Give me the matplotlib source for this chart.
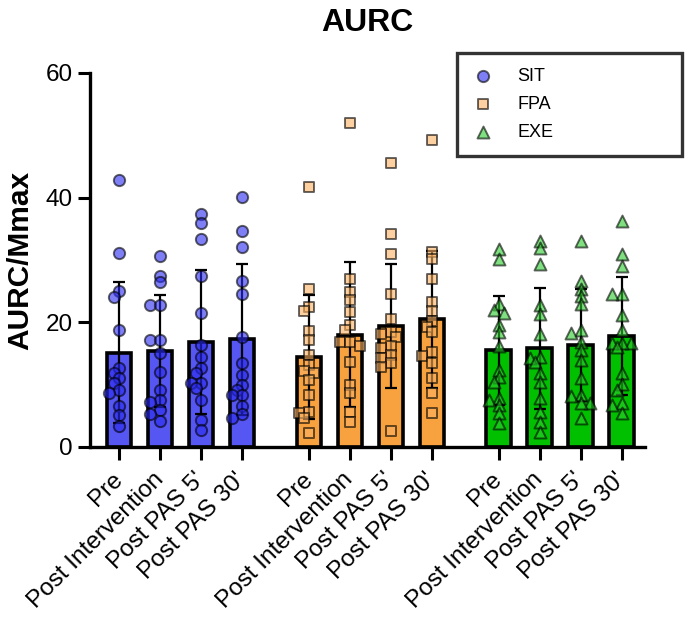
import numpy as np
import matplotlib
matplotlib.use("Agg")
import matplotlib.pyplot as plt

plt.rcParams['font.family'] = ['Liberation Sans', 'DejaVu Sans']

groups = ['SIT', 'FPA', 'EXE']
conditions = ['Pre', 'Post Intervention', "Post PAS 5'", "Post PAS 30'"]

# bar heights (mean) and SD per condition
sit_mean = [15.1, 15.35, 16.85, 17.3]
sit_sd = [11.3, 9.0, 11.6, 12.1]
fpa_mean = [14.4, 18.0, 19.4, 20.5]
fpa_sd = [9.9, 11.6, 9.9, 11.0]
exe_mean = [15.5, 15.8, 16.4, 17.8]
exe_sd = [8.7, 9.7, 9.0, 9.5]

# individual subjects
sit_points = [
    [42.9, 31.1, 25.1, 24.1, 18.8, 12.7, 11.9, 11.0, 10.3, 9.1, 8.6, 6.6, 5.2, 3.4],
    [30.6, 27.5, 26.4, 22.8, 22.8, 17.1, 17.1, 15.1, 12.0, 9.1, 7.6, 7.2, 5.9, 5.3, 4.1],
    [37.3, 36.0, 33.3, 27.5, 21.5, 16.3, 14.4, 12.6, 11.8, 10.3, 10.3, 9.4, 7.5, 4.3, 2.8],
    [40.1, 34.7, 32.1, 26.7, 24.6, 17.6, 13.4, 11.5, 9.9, 9.2, 8.3, 8.3, 6.5, 5.3, 4.7],
]
fpa_points = [
    [41.7, 25.4, 22.5, 21.8, 18.6, 17.1, 14.7, 13.1, 12.2, 11.9, 10.8, 8.3, 5.6, 5.4, 4.7, 2.3],
    [52.0, 27.0, 24.8, 23.5, 21.7, 19.5, 18.7, 16.8, 16.8, 16.2, 13.6, 9.9, 8.7, 5.6, 4.0],
    [45.6, 34.2, 31.0, 24.6, 20.5, 18.5, 18.2, 17.6, 16.2, 15.9, 14.7, 14.2, 13.4, 12.8, 2.5],
    [49.3, 31.3, 30.2, 27.0, 23.3, 21.8, 20.2, 19.3, 18.5, 15.2, 14.6, 13.4, 11.0, 8.6, 5.4],
]
exe_points = [
    [31.8, 30.2, 22.9, 21.9, 21.5, 19.6, 18.4, 16.2, 12.3, 11.2, 10.4, 7.8, 7.6, 6.7, 5.5, 3.9],
    [33.0, 31.9, 29.4, 22.8, 21.4, 18.1, 14.4, 14.3, 13.6, 11.8, 10.5, 7.9, 5.6, 4.0, 2.4],
    [33.0, 26.6, 25.3, 24.2, 23.0, 18.7, 18.3, 16.8, 15.5, 13.9, 11.0, 8.3, 8.1, 7.1, 7.1, 4.7],
    [36.3, 30.9, 29.0, 24.6, 24.6, 21.1, 18.7, 16.7, 16.7, 16.7, 16.0, 11.9, 10.1, 9.1, 7.0, 6.8, 5.5],
]

bar_colors = ['#5656F3', '#F8A23F', '#00C000']
point_colors = ['#2A2AEF', '#FAB161', '#2BCB2B']
markers = ['o', 's', '^']
marker_sizes = [66, 56, 74]

means = [sit_mean, fpa_mean, exe_mean]
sds = [sit_sd, fpa_sd, exe_sd]
points = [sit_points, fpa_points, exe_points]

fig = plt.figure(figsize=(6.85, 6.22), dpi=100)
ax = fig.add_axes([0.1314, 0.2814, 0.8102, 0.6013])
ax.set_xlim(-0.71, 12.83)
ax.set_ylim(0, 60)

gap = 0.63
xpx = 41.0      # pixels per x unit
ypx = 6.233     # pixels per y unit


def swarm(vals, d=6.5):
    cands = [0, -0.12, 0.12, -0.24, 0.24]
    placed = []
    offs = [0.0] * len(vals)
    for i in np.argsort(vals)[::-1]:
        best, bestd = 0, -1
        for c in cands:
            dmin = min([np.hypot((c - px) * xpx, (vals[i] - py) * ypx)
                        for px, py in placed] or [99])
            if dmin >= d:
                best = c
                break
            if dmin > bestd:
                best, bestd = c, dmin
        placed.append((best, vals[i]))
        offs[i] = best
    return offs


xticks = []
for g in range(3):
    xs = np.arange(4) + g * (4 + gap)
    xticks.extend(xs)
    ax.bar(xs, means[g], width=0.6, color=bar_colors[g], edgecolor='black',
           linewidth=2.6, zorder=2)
    ax.errorbar(xs, means[g], yerr=sds[g], fmt='none', ecolor='black',
                elinewidth=1.6, capsize=4, capthick=1.6, zorder=3)
    for i in range(4):
        vals = points[g][i]
        offs = swarm(vals)
        ax.scatter(xs[i] + np.array(offs), vals, s=marker_sizes[g],
                   marker=markers[g], facecolor=point_colors[g],
                   edgecolor='black', linewidth=1.4, alpha=0.6, zorder=4,
                   label=groups[g] if i == 0 else None)

ax.set_xticks(xticks)
ax.set_xticklabels(conditions * 3, rotation=45, ha='right', va='center',
                   rotation_mode='anchor', fontsize=17.5)
ax.set_yticks([0, 20, 40, 60])
ax.tick_params(axis='y', labelsize=17.5, length=9, width=2.2)
ax.tick_params(axis='x', length=9, width=2.2, pad=12)
for side in ['top', 'right']:
    ax.spines[side].set_visible(False)
for side in ['left', 'bottom']:
    ax.spines[side].set_linewidth(2.4)

ax.set_ylabel('AURC/Mmax', fontsize=21.5, fontweight='bold', labelpad=8)
ax.set_title('AURC', fontsize=23, fontweight='bold', pad=30)

leg = fig.legend(loc='upper left', bbox_to_anchor=(0.667, 0.915, 0.328, 0.0),
                 mode='expand', fontsize=13, frameon=True, fancybox=False,
                 borderpad=0.85, labelspacing=0.6, handlelength=1.2,
                 handletextpad=1.3, borderaxespad=0)
leg.get_frame().set_edgecolor('black')
leg.get_frame().set_linewidth(2.4)

fig.savefig('out.png', dpi=100)
